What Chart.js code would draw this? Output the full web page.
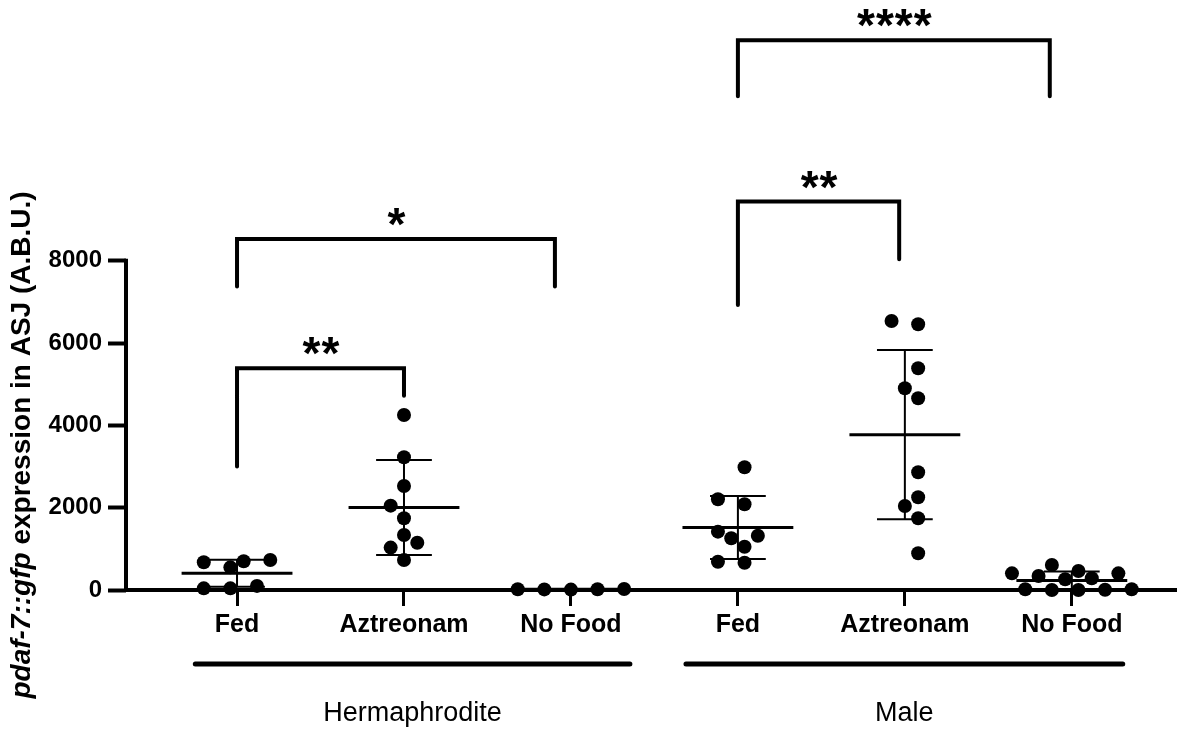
<!DOCTYPE html>
<html>
<head>
<meta charset="utf-8">
<script src="https://cdn.jsdelivr.net/npm/chart.js@4.4.1/dist/chart.umd.min.js"></script>
<style>
  html, body { margin: 0; padding: 0; background: #fff; }
</style>
</head>
<body>
<canvas id="dotChart" width="1177" height="736"></canvas>
<script>
// categories along the x axis and the two groups below them
const categories = ['Fed', 'Aztreonam', 'No Food', 'Fed', 'Aztreonam', 'No Food'];
const groups = ['Hermaphrodite', 'Male'];
const yTicks = [0, 2000, 4000, 6000, 8000];

// pdaf-7::gfp values per worm (A.B.U.)
const hermFed = [730, 675, 550, 700, 40, 100, 40];
const hermAztreonam = [4255, 3226, 2528, 2050, 1743, 1337, 1150, 1030, 730];
const hermNoFood = [20, 15, 25, 20, 10];
const maleFed = [2983, 2083, 2205, 1257, 1320, 1418, 1053, 664, 688];
const maleAztreonam = [6460, 6540, 5390, 4904, 4660, 2862, 2042, 2254, 1743, 892];
const maleNoFood = [405, 340, 608, 260, 405, 284, 462, 17, 0, 5, 0, 17];

// significance comparisons (category index pairs) and their labels
const sigPairs = [[0, 1], [0, 2], [3, 4], [3, 5]];
const sigLabels = ['**', '*', '**', '****'];

const allSeries = [hermFed, hermAztreonam, hermNoFood, maleFed, maleAztreonam, maleNoFood];

const FONT = "'Liberation Sans', Arial, Helvetica, sans-serif";

// where the brackets sit (y in data units, x end in category units)
const bracketLayout = [
  { top: 5390, legL: 3000, legR: 4720, xEnd: 1 },
  { top: 8530, legL: 7375, legR: 7375, xEnd: 1.904 },
  { top: 9440, legL: 6930, legR: 8040, xEnd: 3.966 },
  { top: 13360, legL: 12000, legR: 12000, xEnd: 4.868 }
];
// spans of the group underlines, in category units
const groupSpans = [[-0.25, 2.353], [2.689, 5.305]];

function mean(a) { return a.reduce((s, v) => s + v, 0) / a.length; }
function sd(a) {
  const m = mean(a);
  return Math.sqrt(a.reduce((s, v) => s + (v - m) * (v - m), 0) / (a.length - 1));
}

// simple beeswarm in pixel space, slots of fixed width
function swarm(values, xScale, yScale) {
  const slot = 13.3, minDist = 14.5;
  const order = values.map((v, i) => i).sort((a, b) => values[a] - values[b]);
  const placed = [];
  const slots = new Array(values.length).fill(0);
  order.forEach(i => {
    const py = yScale.getPixelForValue(values[i]);
    for (let n = 0; n < 40; n++) {
      const k = n === 0 ? 0 : (n % 2 ? -Math.ceil(n / 2) : Math.ceil(n / 2));
      const px = k * slot;
      const ok = placed.every(p => Math.hypot(p.px - px, p.py - py) >= minDist);
      if (ok) { placed.push({ px, py }); slots[i] = k; break; }
    }
  });
  const shift = -(Math.min(...slots) + Math.max(...slots)) / 2;
  const unit = xScale.getPixelForValue(1) - xScale.getPixelForValue(0);
  return slots.map(k => (k + shift) * slot / unit);
}

const decorations = {
  id: 'decorations',
  afterDatasetsDraw(chart) {
    const ctx = chart.ctx;
    const xs = chart.scales.x, ys = chart.scales.y;
    const area = chart.chartArea;
    const X = v => xs.getPixelForValue(v);
    const Y = v => ys.getPixelForValue(v);
    ctx.save();
    ctx.strokeStyle = '#000';
    ctx.fillStyle = '#000';

    // y axis line, only up to the last tick
    ctx.lineWidth = 4;
    ctx.lineCap = 'square';
    ctx.beginPath();
    ctx.moveTo(area.left, Y(0));
    ctx.lineTo(area.left, Y(yTicks[yTicks.length - 1]));
    ctx.stroke();

    // mean +- SD
    ctx.lineCap = 'butt';
    allSeries.forEach((vals, i) => {
      const m = mean(vals), s = sd(vals);
      const cx = X(i);
      const half = X(0.332) - X(0), cap = X(0.167) - X(0);
      ctx.lineWidth = 2;
      ctx.beginPath();
      ctx.moveTo(cx, Y(Math.max(m - s, 0)));
      ctx.lineTo(cx, Y(m + s));
      ctx.moveTo(cx - cap, Y(m + s));
      ctx.lineTo(cx + cap, Y(m + s));
      if (m - s > 0) {
        ctx.moveTo(cx - cap, Y(m - s));
        ctx.lineTo(cx + cap, Y(m - s));
      }
      ctx.stroke();
      ctx.lineWidth = 3;
      ctx.beginPath();
      ctx.moveTo(cx - half, Y(m));
      ctx.lineTo(cx + half, Y(m));
      ctx.stroke();
    });

    // significance brackets
    sigPairs.forEach((pair, i) => {
      const b = bracketLayout[i];
      const x1 = X(pair[0]), x2 = X(b.xEnd);
      ctx.lineWidth = 4;
      ctx.lineCap = 'round';
      ctx.lineJoin = 'miter';
      ctx.beginPath();
      ctx.moveTo(x1, Y(b.legL));
      ctx.lineTo(x1, Y(b.top));
      ctx.lineTo(x2, Y(b.top));
      ctx.lineTo(x2, Y(b.legR));
      ctx.stroke();
      ctx.font = 'bold 46px ' + FONT;
      ctx.letterSpacing = '1px';
      ctx.textAlign = 'center';
      ctx.textBaseline = 'alphabetic';
      ctx.fillText(sigLabels[i], (x1 + x2) / 2 + 1, Y(b.top) + 1);
    });
    ctx.letterSpacing = '0px';

    // group underlines and labels
    groups.forEach((g, i) => {
      const [a, b] = groupSpans[i];
      ctx.lineWidth = 5;
      ctx.lineCap = 'round';
      ctx.beginPath();
      ctx.moveTo(X(a), 664);
      ctx.lineTo(X(b), 664);
      ctx.stroke();
      ctx.font = '27px ' + FONT;
      ctx.textAlign = 'center';
      ctx.textBaseline = 'middle';
      ctx.fillText(g, (X(a) + X(b)) / 2, 714);
    });

    // y axis title with italic gene name
    const p1 = 'pdaf-7::gfp', p2 = ' expression in ASJ (A.B.U.)';
    const f1 = 'italic bold 28px ' + FONT, f2 = 'bold 28px ' + FONT;
    ctx.font = f1; const w1 = ctx.measureText(p1).width;
    ctx.font = f2; const w2 = ctx.measureText(p2).width;
    ctx.translate(22, 445);
    ctx.rotate(-Math.PI / 2);
    ctx.textAlign = 'left';
    ctx.textBaseline = 'middle';
    ctx.font = f1; ctx.fillText(p1, -(w1 + w2) / 2, 0);
    ctx.font = f2; ctx.fillText(p2, -(w1 + w2) / 2 + w1, 0);
    ctx.restore();
  }
};

const datasets = allSeries.map((vals, i) => ({
  data: vals.map(v => ({ x: i, y: v })),
  pointRadius: 7,
  pointHoverRadius: 7,
  pointBackgroundColor: '#000',
  pointBorderWidth: 0,
  showLine: false,
  clip: false
}));

const dotChart = new Chart(document.getElementById('dotChart'), {
  type: 'scatter',
  data: { datasets: datasets },
  options: {
    responsive: false,
    animation: false,
    devicePixelRatio: 1,
    events: [],
    layout: { autoPadding: false, padding: { top: 14, left: 0, right: 0, bottom: 0 } },
    plugins: { legend: { display: false }, tooltip: { enabled: false } },
    scales: {
      x: {
        type: 'linear',
        min: -0.665,
        max: 5.63,
        afterBuildTicks: s => { s.ticks = categories.map((c, i) => ({ value: i })); },
        afterFit: s => { s.height = 146; s.paddingLeft = 0; s.paddingRight = 0; },
        ticks: {
          callback: (v, i) => categories[i],
          font: { family: FONT, size: 25, weight: 'bold' },
          color: '#000',
          padding: 4,
          autoSkip: false,
          maxRotation: 0
        },
        grid: { drawOnChartArea: false, tickLength: 16, tickWidth: 3, tickColor: '#000' },
        border: { display: true, width: 4, color: '#000' }
      },
      y: {
        type: 'linear',
        min: 0,
        max: 14000,
        afterBuildTicks: s => { s.ticks = yTicks.map(v => ({ value: v })); },
        afterFit: s => { s.width = 126; s.paddingTop = 0; s.paddingBottom = 0; },
        ticks: {
          callback: v => String(v),
          font: { family: FONT, size: 24, weight: 'bold' },
          color: '#000',
          padding: 6
        },
        grid: { drawOnChartArea: false, tickLength: 18, tickWidth: 4, tickColor: '#000' },
        border: { display: false }
      }
    }
  },
  plugins: [decorations]
});

// spread the dots sideways now that the scales exist
allSeries.forEach((vals, i) => {
  const offs = swarm(vals, dotChart.scales.x, dotChart.scales.y);
  dotChart.data.datasets[i].data = vals.map((v, j) => ({ x: i + offs[j], y: v }));
});
dotChart.update('none');
</script>
</body>
</html>
